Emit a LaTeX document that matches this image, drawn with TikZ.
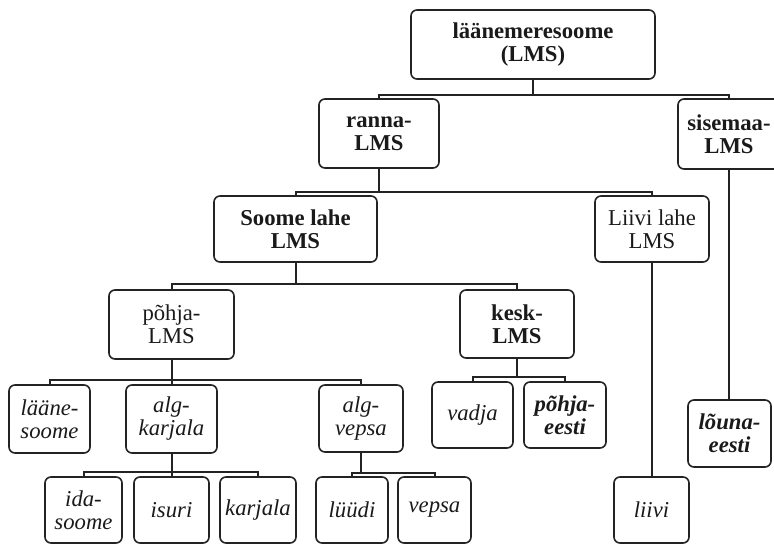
\documentclass[tikz,border=0pt]{standalone}
\usepackage{fontspec}
\setmainfont{Liberation Serif}
\definecolor{ink}{HTML}{232323}
\definecolor{txt}{HTML}{1A1A1A}
\begin{document}
\begin{tikzpicture}[x=1pt,y=-1pt,
  box/.style={draw=ink,line width=1.6pt,rounded corners=6pt,align=center,
    inner sep=0pt,text=txt,font=\fontsize{22.7}{23}\selectfont},
  bx/.style={box,font=\fontsize{22.7}{23}\selectfont\bfseries},
  it/.style={box,font=\fontsize{22.7}{23}\selectfont\itshape},
  bi/.style={box,font=\fontsize{22.7}{23}\selectfont\bfseries\itshape},
  wh/.style 2 args={minimum width=#1pt,minimum height=#2pt},
  con/.style={draw=ink,line width=2pt}]
\useasboundingbox (0,0) rectangle (774,544);
\node[bx,wh={244}{69}] (lms) at (533,44.5) {läänemeresoome\\(LMS)};
\node[bx,wh={120}{69}] (ranna) at (379,133.5) {ranna-\\LMS};
\node[bx,wh={102}{70}] (sise) at (729,134) {sisemaa-\\LMS};
\node[bx,wh={163}{66}] (soome) at (295.5,229) {Soome lahe\\LMS};
\node[box,wh={114}{66}] (liivil) at (652,229) {Liivi lahe\\LMS};
\node[box,wh={125}{69}] (pohja) at (171.5,324.5) {põhja-\\LMS};
\node[bx,wh={114}{68}] (kesk) at (517,324) {kesk-\\LMS};
\node[it,wh={81}{68}] (laane) at (49.5,419) {lääne-\\soome};
\node[it,wh={91}{68}] (algk) at (171.5,419) {alg-\\karjala};
\node[it,wh={84}{67}] (algv) at (361,418.5) {alg-\\vepsa};
\node[it,wh={81}{66}] (vadja) at (472.5,415) {vadja};
\node[bi,wh={82}{66}] (pe) at (565,415) {põhja-\\eesti};
\node[bi,wh={83}{67}] (louna) at (729.5,433.5) {lõuna-\\eesti};
\node[it,wh={77}{66}] (ida) at (83.5,510) {ida-\\soome};
\node[it,wh={75}{66}] (isuri) at (171.5,510) {isuri};
\node[it,wh={76}{66}] (karj) at (258,510) {karjala};
\node[it,wh={72}{66}] (liudi) at (352,510) {lüüdi};
\node[it,wh={73}{66}] (vepsa) at (434.5,510) {vepsa};
\node[it,wh={75}{66}] (liivi) at (651.5,510) {liivi};
% connectors
\draw[con] (lms.south) -- (lms.south |- 0,95);
\draw[con] (ranna.north) -- (ranna.north |- 0,95) -- (sise.north |- 0,95) -- (sise.north);
\draw[con] (ranna.south) -- (ranna.south |- 0,192);
\draw[con] (soome.north) -- (soome.north |- 0,192) -- (liivil.north |- 0,192) -- (liivil.north);
\draw[con] (sise.south) -- (louna.north -| sise.south);
\draw[con] (liivil.south) -- (liivi.north -| liivil.south);
\draw[con] (soome.south) -- (soome.south |- 0,284);
\draw[con] (pohja.north) -- (pohja.north |- 0,284) -- (kesk.north |- 0,284) -- (kesk.north);
\draw[con] (pohja.south) -- (algk.north);
\draw[con] (laane.north) -- (laane.north |- 0,380) -- (algv.north |- 0,380) -- (algv.north);
\draw[con] (kesk.south) -- (kesk.south |- 0,377);
\draw[con] (vadja.north) -- (vadja.north |- 0,377) -- (pe.north |- 0,377) -- (pe.north);
\draw[con] (algk.south) -- (isuri.north);
\draw[con] (ida.north) -- (ida.north |- 0,472) -- (karj.north |- 0,472) -- (karj.north);
\draw[con] (algv.south) -- (algv.south |- 0,473);
\draw[con] (liudi.north) -- (liudi.north |- 0,473) -- (vepsa.north |- 0,473) -- (vepsa.north);
\end{tikzpicture}
\end{document}
